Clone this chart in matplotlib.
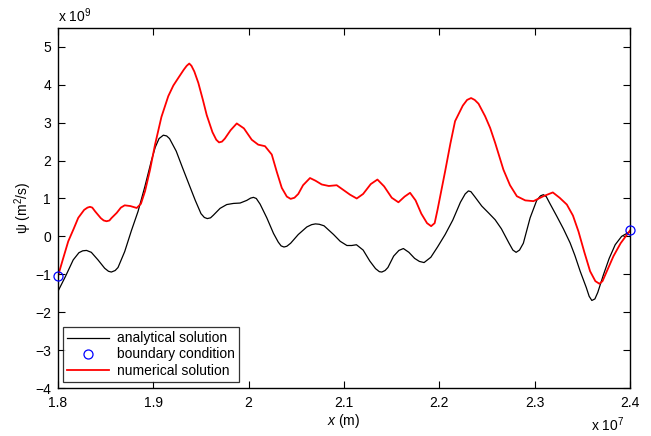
import matplotlib
matplotlib.use("Agg")
import matplotlib.pyplot as plt

# x in units of 1e7 m, psi in units of 1e9 m^2/s
x_analytical = [1.800, 1.808, 1.816, 1.822, 1.826, 1.830, 1.835, 1.842, 1.849, 1.853,
                1.856, 1.860, 1.863, 1.870, 1.877, 1.884, 1.891, 1.898, 1.902, 1.906,
                1.9105, 1.914, 1.917, 1.924, 1.9305, 1.937, 1.944, 1.950, 1.9535, 1.9566,
                1.960, 1.963, 1.970, 1.977, 1.984, 1.991, 1.998, 2.002, 2.005, 2.008,
                2.012, 2.019, 2.026, 2.031, 2.034, 2.037, 2.040, 2.044, 2.052, 2.061,
                2.066, 2.070, 2.074, 2.079, 2.089, 2.096, 2.103, 2.108, 2.113, 2.120,
                2.127, 2.133, 2.137, 2.1396, 2.143, 2.146, 2.152, 2.1575, 2.1622, 2.168,
                2.174, 2.179, 2.1839, 2.191, 2.198, 2.206, 2.214, 2.222, 2.227, 2.2304,
                2.233, 2.237, 2.2444, 2.2515, 2.2584, 2.265, 2.273, 2.277, 2.2804, 2.284,
                2.288, 2.2951, 2.302, 2.306, 2.309, 2.312, 2.316, 2.3231, 2.330, 2.337,
                2.342, 2.3476, 2.354, 2.357, 2.3598, 2.363, 2.366, 2.372, 2.378, 2.3843,
                2.391, 2.400]
psi_analytical = [-1.45, -1.05, -0.62, -0.43, -0.38, -0.37, -0.42, -0.62, -0.84, -0.92,
                  -0.94, -0.90, -0.82, -0.40, 0.15, 0.66, 1.30, 2.00, 2.35, 2.58,
                  2.67, 2.65, 2.58, 2.25, 1.82, 1.40, 0.95, 0.60, 0.50, 0.47,
                  0.49, 0.56, 0.74, 0.84, 0.87, 0.88, 0.95, 1.01, 1.03, 1.00,
                  0.85, 0.49, 0.08, -0.15, -0.25, -0.28, -0.26, -0.18, 0.05, 0.25,
                  0.31, 0.33, 0.32, 0.28, 0.05, -0.13, -0.24, -0.24, -0.22, -0.36,
                  -0.65, -0.85, -0.93, -0.94, -0.90, -0.82, -0.52, -0.37, -0.32, -0.42,
                  -0.58, -0.66, -0.69, -0.55, -0.28, 0.05, 0.43, 0.90, 1.12, 1.20,
                  1.18, 1.05, 0.80, 0.62, 0.44, 0.20, -0.18, -0.36, -0.42, -0.36,
                  -0.18, 0.49, 0.95, 1.07, 1.10, 1.05, 0.86, 0.53, 0.20, -0.17,
                  -0.50, -0.92, -1.35, -1.58, -1.69, -1.65, -1.48, -1.01, -0.58, -0.22,
                  0.00, 0.13]

x_numerical = [1.800, 1.805, 1.8108, 1.8165, 1.8213, 1.8275, 1.831, 1.8336, 1.836, 1.839,
               1.845, 1.848, 1.851, 1.854, 1.856, 1.8616, 1.866, 1.870, 1.876, 1.8826,
               1.887, 1.8913, 1.8965, 1.9018, 1.9085, 1.9157, 1.921, 1.9262, 1.932, 1.935,
               1.9377, 1.940, 1.943, 1.9472, 1.952, 1.956, 1.962, 1.966, 1.9689, 1.972,
               1.975, 1.981, 1.9875, 1.995, 2.0032, 2.010, 2.0171, 2.0242, 2.0295, 2.0347,
               2.040, 2.044, 2.048, 2.052, 2.057, 2.0643, 2.070, 2.0766, 2.084, 2.0923,
               2.1063, 2.1133, 2.120, 2.128, 2.135, 2.142, 2.150, 2.157, 2.1635, 2.1692,
               2.175, 2.181, 2.187, 2.1913, 2.195, 2.198, 2.206, 2.2115, 2.2164, 2.2245,
               2.229, 2.2332, 2.237, 2.241, 2.2479, 2.2532, 2.2584, 2.2671, 2.274, 2.2812,
               2.290, 2.2986, 2.309, 2.3189, 2.326, 2.3336, 2.340, 2.3458, 2.352, 2.358,
               2.3635, 2.3678, 2.371, 2.375, 2.3825, 2.390, 2.400]
psi_numerical = [-1.05, -0.62, -0.13, 0.20, 0.49, 0.70, 0.76, 0.78, 0.76, 0.66,
                 0.48, 0.42, 0.40, 0.42, 0.48, 0.62, 0.76, 0.82, 0.80, 0.75,
                 0.86, 1.19, 1.75, 2.42, 3.15, 3.70, 3.98, 4.18, 4.40, 4.50,
                 4.56, 4.50, 4.35, 4.05, 3.60, 3.20, 2.75, 2.55, 2.48, 2.50,
                 2.58, 2.80, 2.98, 2.85, 2.55, 2.42, 2.38, 2.16, 1.70, 1.28,
                 1.05, 0.99, 1.02, 1.12, 1.35, 1.54, 1.47, 1.37, 1.33, 1.35,
                 1.10, 1.00, 1.12, 1.38, 1.50, 1.32, 1.02, 0.90, 1.05, 1.15,
                 0.95, 0.60, 0.35, 0.27, 0.35, 0.70, 1.72, 2.45, 3.04, 3.45,
                 3.60, 3.65, 3.60, 3.50, 3.17, 2.86, 2.47, 1.76, 1.35, 1.06,
                 0.95, 0.93, 1.06, 1.16, 1.02, 0.84, 0.55, 0.13, -0.42, -0.92,
                 -1.18, -1.25, -1.18, -0.95, -0.52, -0.18, 0.16]

x_boundary = [1.800, 2.400]
psi_boundary = [-1.05, 0.18]

xticks = [1.8, 1.9, 2.0, 2.1, 2.2, 2.3, 2.4]
xticklabels = ["1.8", "1.9", "2", "2.1", "2.2", "2.3", "2.4"]
yticks = [-4, -3, -2, -1, 0, 1, 2, 3, 4, 5]
yticklabels = ["\u22124", "\u22123", "\u22122", "\u22121", "0", "1", "2", "3", "4", "5"]

plt.rcParams['font.family'] = ['Liberation Sans', 'DejaVu Sans']
plt.rcParams['mathtext.fontset'] = 'custom'
plt.rcParams['mathtext.it'] = 'Liberation Sans:italic'
plt.rcParams['mathtext.rm'] = 'Liberation Sans'

fig = plt.figure(figsize=(6.51, 4.36), dpi=100)
ax = fig.add_axes([0.089, 0.110, 0.879, 0.826])

ax.plot(x_analytical, psi_analytical, color='black', lw=0.9, label='analytical solution')
ax.plot(x_boundary, psi_boundary, linestyle='none', marker='o', markersize=6.5,
        markerfacecolor='none', markeredgecolor='blue', markeredgewidth=0.9,
        label='boundary condition', zorder=5, clip_on=False)
ax.plot(x_numerical, psi_numerical, color='red', lw=1.3, label='numerical solution')

ax.set_xlim(1.8, 2.4)
ax.set_ylim(-4, 5.5)
ax.set_xticks(xticks)
ax.set_xticklabels(xticklabels)
ax.set_yticks(yticks)
ax.set_yticklabels(yticklabels)
ax.tick_params(direction='in', top=True, right=True, length=5, width=0.8,
               labelsize=10)
ax.tick_params(axis='x', pad=6)
ax.tick_params(axis='y', pad=5)
for s in ax.spines.values():
    s.set_linewidth(1.0)

ax.set_xlabel('$x$ (m)', fontsize=10, labelpad=1)
ax.set_ylabel('\u03c8 (m$^2$/s)', fontsize=10, labelpad=1)

ax.text(0.0, 1.0167, 'x 10$^{9}$', transform=ax.transAxes, fontsize=10,
        ha='left', va='baseline')
ax.text(0.99, -0.12, 'x 10$^{7}$', transform=ax.transAxes, fontsize=10,
        ha='right', va='baseline')

leg = ax.legend(loc='lower left', bbox_to_anchor=(0.0093, 0.0175), fontsize=10,
                frameon=True, fancybox=False, borderaxespad=0, handlelength=3.0,
                handletextpad=0.6, borderpad=0.3, labelspacing=0.15)
leg.get_frame().set_edgecolor('black')
leg.get_frame().set_linewidth(0.9)

fig.savefig('out.png', dpi=100)
